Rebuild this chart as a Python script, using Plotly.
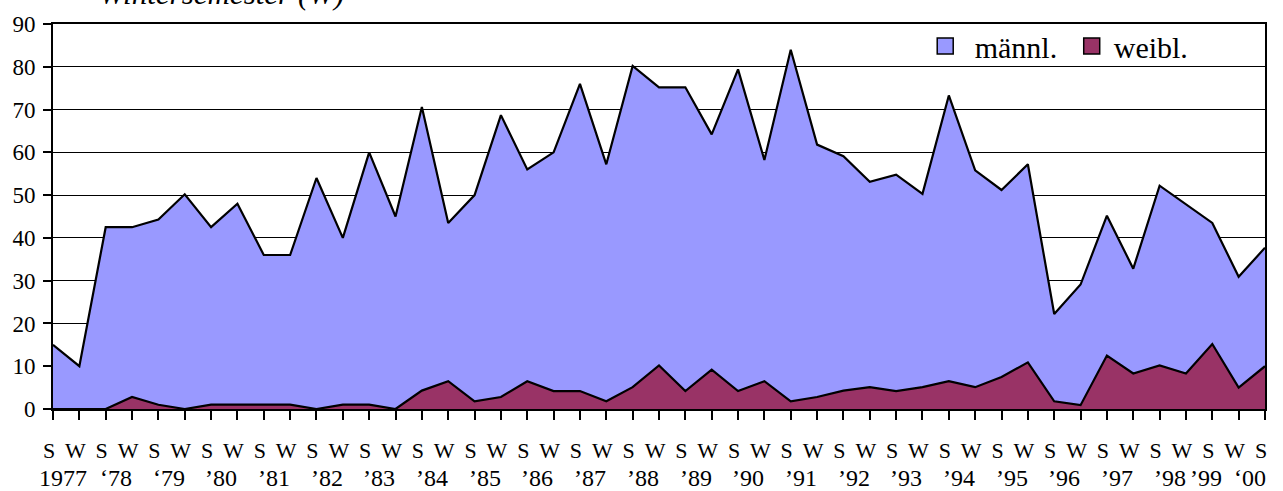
import plotly.graph_objects as go

# ---- data ----
semester_labels = ["S", "W"] * 23 + ["S"]
year_labels = ["1977", "‘78", "‘79", "’80", "’81", "’82", "’83", "’84", "’85",
               "’86", "’87", "’88", "’89", "’90", "’91", "’92", "’93", "’94",
               "’95", "’96", "’97", "’98", "’99", "‘00"]
maennl = [15, 10, 42.5, 42.5, 44.3, 50.2, 42.5, 48, 36, 36,
          54, 40, 60, 45, 70.6, 43.5, 50, 68.7, 56, 60,
          76, 57.2, 80.2, 75.2, 75.2, 64.2, 79.4, 58.2, 84, 61.8,
          59.1, 53.1, 54.8, 50.3, 73.3, 55.8, 51.2, 57.2, 22.2, 29.1,
          45.2, 32.8, 52.2, 47.9, 43.5, 30.9, 37.7]
weibl = [0, 0, 0, 2.8, 1, 0, 1, 1, 1, 1,
         0, 1, 1, 0, 4.3, 6.5, 1.8, 2.8, 6.5, 4.2,
         4.2, 1.8, 5.1, 10.2, 4.2, 9.2, 4.2, 6.5, 1.8, 2.8,
         4.3, 5.1, 4.2, 5.1, 6.5, 5.1, 7.5, 10.9, 1.8, 0.9,
         12.5, 8.3, 10.2, 8.3, 15.2, 5, 10]
series_names = ["männl.", "weibl."]
series_colors = ["#9999FF", "#993366"]
title_text = "Wintersemester (W)"

FONT = "Liberation Serif"
NBSP = "\u00a0"
x = list(range(len(semester_labels)))

fig = go.Figure()
for name, vals, col in zip(series_names, [maennl, weibl], series_colors):
    fig.add_trace(go.Scatter(
        x=x, y=vals, mode="lines", name=name, showlegend=False,
        fill="tozeroy", fillcolor=col,
        line=dict(color="black", width=2.2),
        hoverinfo="x+y",
    ))
# legend entries (square swatches)
legend_text = [NBSP + series_names[0] + NBSP, series_names[1]]
for name, col in zip(legend_text, series_colors):
    fig.add_trace(go.Scatter(
        x=[None], y=[None], mode="markers", name=name,
        marker=dict(symbol="square", size=24, color=col,
                    line=dict(color="black", width=1.5)),
    ))

# year labels beneath the S/W row
annotations = []
n_years = len(year_labels)
for k, lab in enumerate(year_labels):
    if k == n_years - 1:
        xpos, xs = 2 * k, -15
    elif k == n_years - 2:
        xpos, xs = 2 * k + 0.5, -19
    else:
        xpos, xs = 2 * k + 0.5, -3
    annotations.append(dict(
        x=xpos, xref="x", y=0, yref="paper", yanchor="middle",
        yshift=-69, xshift=xs, text=lab, showarrow=False,
        font=dict(family=FONT, size=24, color="black"),
    ))
annotations.append(dict(
    x=(97 - 53) / 1212, xref="paper", xanchor="left",
    y=1, yref="paper", yanchor="bottom", yshift=11,
    text="<i>" + title_text + "</i>", showarrow=False,
    font=dict(family=FONT, size=31, color="black"),
))

fig.update_layout(
    width=1283, height=491,
    margin=dict(l=53, r=18, t=19, b=82),
    paper_bgcolor="white", plot_bgcolor="white",
    font=dict(family=FONT, color="black"),
    annotations=annotations,
    showlegend=True,
    legend=dict(
        orientation="h", x=0.718, xanchor="left", y=0.943, yanchor="middle",
        bgcolor="rgba(0,0,0,0)", font=dict(family=FONT, size=30, color="black"),
        itemsizing="trace", itemwidth=34, tracegroupgap=0,
    ),
    xaxis=dict(
        range=[0, 46], tickmode="array", tickvals=x, ticktext=semester_labels,
        ticks="outside", ticklen=9, tickwidth=2, tickcolor="black",
        showline=True, linecolor="black", linewidth=2, mirror=True,
        showgrid=False, zeroline=False,
        tickfont=dict(family=FONT, size=22, color="black"),
        ticklabelstandoff=12, ticklabelshift=-4, tickangle=0,
    ),
    yaxis=dict(
        range=[0, 90], tickmode="linear", tick0=0, dtick=10,
        ticks="outside", ticklen=8, tickwidth=2, tickcolor="black",
        showline=True, linecolor="black", linewidth=2, mirror=True,
        showgrid=True, gridcolor="black", gridwidth=1, zeroline=False,
        tickfont=dict(family=FONT, size=23, color="black"),
        ticklabelstandoff=3,
        layer="above traces",
    ),
)

fig.write_html("out.html", config={"displayModeBar": False},
               post_script="document.body.style.margin='0';")
